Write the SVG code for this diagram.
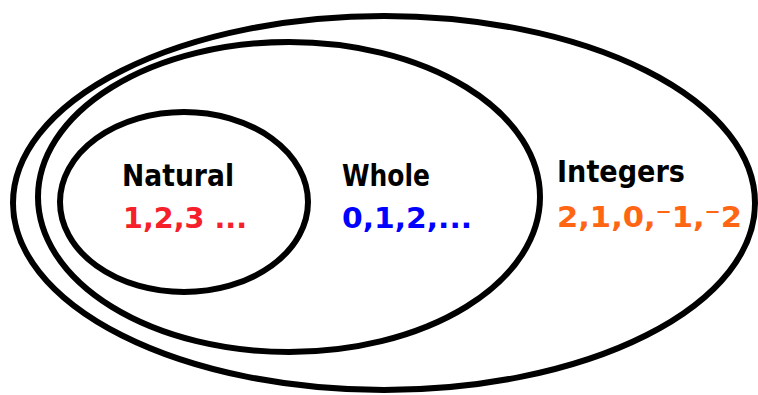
<svg xmlns="http://www.w3.org/2000/svg" width="758" height="395" viewBox="0 0 758 395">
<style>
.set{fill:none;stroke:#000;stroke-width:6}
.lbl{font-family:"DejaVu Sans","Liberation Sans",sans-serif;font-size:31px;font-weight:bold;fill:#000}
.num{font-family:"DejaVu Sans","Liberation Sans",sans-serif;font-size:29px;font-weight:bold}
</style>
<rect width="758" height="395" fill="#fff"/>
<g id="integers">
<ellipse class="set" cx="384" cy="203" rx="371" ry="187"/>
<text class="lbl" x="557" y="182" textLength="128" lengthAdjust="spacingAndGlyphs">Integers</text>
<text class="num" x="557" y="227" fill="#ff6614" textLength="185" lengthAdjust="spacingAndGlyphs">2,1,0,⁻1,⁻2</text>
</g>
<g id="whole">
<ellipse class="set" cx="289" cy="197" rx="251" ry="155"/>
<text class="lbl" x="342" y="186" textLength="88" lengthAdjust="spacingAndGlyphs">Whole</text>
<text class="num" x="342" y="228" fill="#0000ff" textLength="130" lengthAdjust="spacingAndGlyphs">0,1,2,...</text>
</g>
<g id="natural">
<ellipse class="set" cx="184" cy="202" rx="124" ry="90"/>
<text class="lbl" x="122" y="186" textLength="112" lengthAdjust="spacingAndGlyphs">Natural</text>
<text class="num" x="123" y="228" fill="#f5202a" textLength="124" lengthAdjust="spacingAndGlyphs">1,2,3 ...</text>
</g>
<g id="connectors"/>
</svg>
